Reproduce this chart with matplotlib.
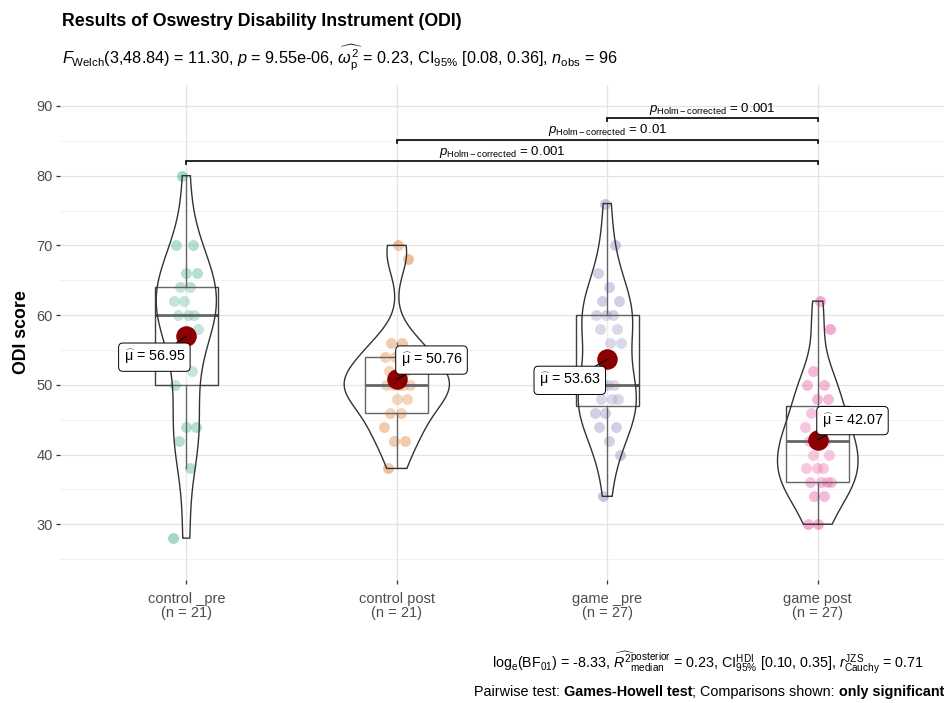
import numpy as np
import matplotlib
matplotlib.use("Agg")
import matplotlib.pyplot as plt

plt.rcParams['font.family'] = ['Liberation Sans', 'DejaVu Sans']
plt.rcParams['mathtext.fontset'] = 'custom'
plt.rcParams['mathtext.rm'] = 'Liberation Sans'
plt.rcParams['mathtext.it'] = 'Liberation Sans:italic'
plt.rcParams['mathtext.bf'] = 'Liberation Sans:bold'

# data
groups = ['control _pre', 'control post', 'game _pre', 'game post']
ctrl_pre = [28, 38, 42, 44, 44, 50, 52, 56, 58, 60, 60, 60, 62, 62, 64, 64, 66, 66, 70, 70, 80]
ctrl_post = [38, 42, 42, 44, 46, 46, 48, 48, 50, 50, 50, 50, 50, 52, 52, 54, 54, 56, 56, 68, 70]
game_pre = [34, 40, 42, 44, 44, 46, 46, 48, 48, 48, 50, 50, 50, 50, 56, 56, 58, 58, 60, 60, 60,
            62, 62, 64, 66, 70, 76]
game_post = [30, 30, 34, 34, 36, 36, 36, 36, 38, 38, 38, 40, 40, 42, 42, 42, 42, 44, 44, 46, 48,
             48, 50, 50, 52, 58, 62]
pair_from = [1, 2, 3]
pair_to = [4, 4, 4]
pair_p = ['0.001', '0.01', '0.001']

colors = ['#1B9E77', '#D95F02', '#7570B3', '#E7298A']
data = [np.array(ctrl_pre, float), np.array(ctrl_post, float),
        np.array(game_pre, float), np.array(game_post, float)]
pos = np.arange(1, 5)


def nrd0(x):
    sd = np.std(x, ddof=1)
    iqr = np.percentile(x, 75) - np.percentile(x, 25)
    lo = min(sd, iqr / 1.34)
    return 0.9 * lo * len(x) ** -0.2


def kde(x):
    bw = nrd0(x)
    yy = np.linspace(x.min(), x.max(), 512)
    d = np.exp(-0.5 * ((yy[:, None] - x[None, :]) / bw) ** 2).sum(axis=1)
    d = d / (len(x) * bw * np.sqrt(2 * np.pi))
    return yy, d


fig = plt.figure(figsize=(9.45, 7.03), dpi=100)
ax = fig.add_axes([0.0635, 0.175, 0.9355, 0.704])

# grid
ax.set_axisbelow(True)
for v in np.arange(25, 95, 10):
    ax.axhline(v, color='#F0F0F0', lw=0.6, zorder=0)
for v in np.arange(30, 100, 10):
    ax.axhline(v, color='#E3E3E3', lw=0.9, zorder=0)
for p in pos:
    ax.axvline(p, color='#E3E3E3', lw=0.9, zorder=0)

# jittered points
for k, (vals, c) in enumerate(zip(data, colors)):
    jit = 0.065 * (2 * ((np.arange(len(vals)) * 0.618034 + 0.17 * k) % 1) - 1)
    ax.scatter(pos[k] + jit, vals, s=62, color=c, alpha=0.4, lw=0, zorder=2)

# boxplots
ax.boxplot(data, positions=pos, widths=0.3, whis=1.5, showfliers=False, showcaps=False,
           patch_artist=True, manage_ticks=False, zorder=3,
           boxprops=dict(facecolor=(1, 1, 1, 0.2), edgecolor='#404040', lw=1.0),
           whiskerprops=dict(color='#404040', lw=1.0),
           medianprops=dict(color='#404040', lw=2.0))

# violins, area scaled
dens = [kde(v) for v in data]
gmax = max(d.max() for _, d in dens)
for k, (yy, d) in enumerate(dens):
    hw = 0.25 * d / gmax
    xs = np.concatenate([pos[k] - hw, (pos[k] + hw)[::-1]])
    ys = np.concatenate([yy, yy[::-1]])
    ax.fill(xs, ys, facecolor=(1, 1, 1, 0.2), edgecolor='#333333', lw=1.0, zorder=4)

# means with labels
offsets = [(-23, -15), (25, 14), (-27, -15), (25, 14)]
for k, vals in enumerate(data):
    m = vals.mean()
    ax.scatter(pos[k], m, s=190, color='#8B0000', zorder=6)
    ax.annotate(r'$\widehat{\mathrm{\mu}}$ = %.2f' % m, xy=(pos[k], m), xytext=offsets[k],
                textcoords='offset points', ha='center', va='center', fontsize=10.3, zorder=7,
                bbox=dict(boxstyle='round,pad=0.35,rounding_size=0.3', fc='white', ec='black', lw=0.7),
                arrowprops=dict(arrowstyle='-', color='black', lw=0.8, shrinkA=0, shrinkB=0))

# pairwise comparison bars
ymax = max(v.max() for v in data)
ymin = min(v.min() for v in data)
yr = ymax - ymin
for i, (a, b, p) in enumerate(zip(pair_from, pair_to, pair_p)):
    yb = ymax + 0.04 * yr + i * 0.059 * yr
    tip = 0.008 * yr
    ax.plot([a, a, b, b], [yb - tip, yb, yb, yb - tip], color='black', lw=1.2,
            solid_joinstyle='miter', zorder=5)
    ax.text((a + b) / 2, yb + 0.2, r'$\mathit{p}_{\mathrm{Holm-corrected}}$ = ' + p,
            ha='center', va='bottom', fontsize=9.5, zorder=5)

ax.set_xlim(0.4, 4.6)
ax.set_ylim(22, 93)
ax.set_yticks(np.arange(30, 100, 10))
ax.set_xticks(pos)
counts = [len(v) for v in data]
ax.set_xticklabels(['%s\n(n = %d)' % (g, n) for g, n in zip(groups, counts)], linespacing=1.0)
ax.tick_params(axis='both', labelsize=10.5, labelcolor='#4D4D4D', color='#333333',
               length=3, width=0.9, pad=2)
ax.tick_params(axis='x', pad=6)
for s in ax.spines.values():
    s.set_visible(False)
ax.set_ylabel('ODI score', fontsize=12.8, fontweight='bold', labelpad=5)

fig.text(62 / 945, 1 - 22 / 703, 'Results of Oswestry Disability Instrument (ODI)',
         fontsize=12.8, fontweight='bold', va='center', ha='left')
fig.text(62 / 945, 1 - 58 / 703,
         r'$\mathit{F}_{\mathrm{Welch}}$(3,48.84) = 11.30, $\mathit{p}$ = 9.55e-06, '
         r'$\widehat{\omega_{\mathrm{p}}^{2}}$ = 0.23, CI$_{95\%}$ [0.08, 0.36], '
         r'$\mathit{n}_{\mathrm{obs}}$ = 96',
         fontsize=11.7, va='center', ha='left')

fig.text(708 / 945, 1 - 663 / 703,
         r'log$_{\mathrm{e}}$(BF$_{01}$) = -8.33, $\widehat{\mathit{R}^{2}}{}^{\mathrm{posterior}}_{\mathrm{median}}$'
         r' = 0.23, CI$^{\mathrm{HDI}}_{95\%}$ [0.10, 0.35], $\mathit{r}^{\mathrm{JZS}}_{\mathrm{Cauchy}}$ = 0.71',
         fontsize=10.3, ha='center', va='center')

# second caption line, pieces chained right to left
pieces = [('only significant', 'bold'), ('; Comparisons shown: ', 'normal'),
          ('Games-Howell test', 'bold'), ('Pairwise test: ', 'normal')]
prev = fig.text(944 / 945, 1 - 692 / 703, pieces[0][0], fontsize=10.4, fontweight=pieces[0][1],
                ha='right', va='center')
for txt, w in pieces[1:]:
    prev = ax.annotate(txt, xy=(0, 0), xycoords=prev, ha='right', va='bottom',
                       fontsize=10.4, fontweight=w, annotation_clip=False)

fig.savefig('out.png', dpi=100)
